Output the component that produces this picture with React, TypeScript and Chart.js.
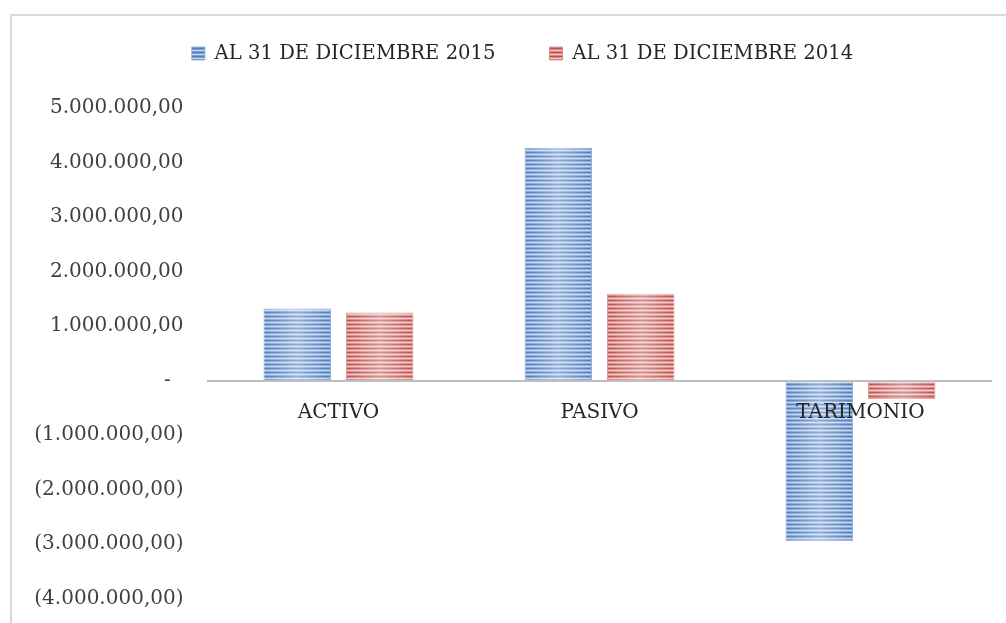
import React, { useEffect, useRef } from "react";
import { Chart, registerables } from "chart.js";

Chart.register(...registerables);

const categories = ["ACTIVO", "PASIVO", "TARIMONIO"];
const seriesLabels = ["AL 31 DE DICIEMBRE 2015", "AL 31 DE DICIEMBRE 2014"];
const values2015 = [1320000, 4270000, -2950000];
const values2014 = [1250000, 1590000, -340000];
const yMin = -4000000;
const yMax = 5000000;
const yStep = 1000000;

const FONT = "'DejaVu Serif', serif";

function fmtNumber(n: number): string {
  const s = Math.round(Math.abs(n))
    .toString()
    .replace(/\B(?=(\d{3})+(?!\d))/g, ".");
  return s + ",00";
}

function tickLabel(v: number): string {
  if (v === 0) return "-\u2007";
  if (v < 0) return "(" + fmtNumber(v) + ")";
  return fmtNumber(v);
}

function makePattern(dark: string, mid: string, light: string): CanvasPattern | string {
  const c = document.createElement("canvas");
  c.width = 4;
  c.height = 4;
  const g = c.getContext("2d");
  if (!g) return dark;
  const rows = [dark, mid, light, mid];
  rows.forEach((col, i) => {
    g.fillStyle = col;
    g.fillRect(0, i, 4, 1);
  });
  const p = g.createPattern(c, "repeat");
  return p || dark;
}

const glossPlugin = {
  id: "gloss",
  afterDatasetsDraw(chart: any) {
    const ctx = chart.ctx;
    chart.data.datasets.forEach((_ds: any, i: number) => {
      const meta = chart.getDatasetMeta(i);
      meta.data.forEach((bar: any) => {
        const { x, y, base, width } = bar.getProps(["x", "y", "base", "width"], true);
        const left = x - width / 2;
        const top = Math.min(y, base);
        const h = Math.abs(base - y);
        const g = ctx.createLinearGradient(left, 0, left + width, 0);
        g.addColorStop(0, "rgba(255,255,255,0)");
        g.addColorStop(0.5, "rgba(255,255,255,0.38)");
        g.addColorStop(1, "rgba(255,255,255,0)");
        ctx.save();
        ctx.fillStyle = g;
        ctx.fillRect(left, top, width, h);
        ctx.restore();
      });
    });
  },
};

const legendShiftPlugin = {
  id: "legendShift",
  afterLayout(chart: any) {
    const lg = chart.legend;
    if (lg) {
      lg.left += 27;
      lg.right += 27;
    }
  },
};

export default function App() {
  const ref = useRef<HTMLCanvasElement | null>(null);

  useEffect(() => {
    if (!ref.current) return;
    const bluePattern = makePattern("#4F7EC0", "#7FA2D4", "#C9D8EE");
    const redPattern = makePattern("#C0504D", "#D78886", "#F0C9C8");

    const chart = new Chart(ref.current, {
      type: "bar",
      data: {
        labels: categories,
        datasets: [
          {
            label: seriesLabels[0],
            data: values2015,
            backgroundColor: bluePattern as any,
            borderColor: "rgba(120,160,215,0.8)",
            borderWidth: 1,
            categoryPercentage: 0.632,
            barPercentage: 0.818,
          },
          {
            label: seriesLabels[1],
            data: values2014,
            backgroundColor: redPattern as any,
            borderColor: "rgba(215,130,128,0.8)",
            borderWidth: 1,
            categoryPercentage: 0.632,
            barPercentage: 0.818,
          },
        ],
      },
      options: {
        responsive: false,
        animation: false,
        devicePixelRatio: 1,
        layout: {
          padding: { left: 0, right: 15, top: -10.3, bottom: 20 },
        },
        plugins: {
          legend: {
            position: "top",
            labels: {
              boxWidth: 13,
              boxHeight: 13,
              padding: 54,
              color: "#262626",
              font: { family: FONT, size: 19.6 },
            },
          },
          title: {
            display: true,
            text: "",
            weight: 500,
            padding: { top: 33.7, bottom: 0 },
            font: { size: 1, lineHeight: 1 },
          },
          tooltip: { enabled: false },
        },
        scales: {
          x: {
            position: { y: 0 } as any,
            grid: { display: false, drawTicks: false },
            border: { display: true, color: "#BFBFBF", width: 2, z: 1 },
            ticks: {
              z: 1,
              padding: 20,
              color: "#262626",
              font: { family: FONT, size: 20 },
            },
          },
          y: {
            min: yMin,
            max: yMax,
            afterFit: (scale: any) => {
              scale.width = 208;
            },
            grid: { display: false, drawTicks: false },
            border: { display: false },
            ticks: {
              stepSize: yStep,
              padding: 24.5,
              color: "#404040",
              font: { family: FONT, size: 20, lineHeight: 0 },
              callback: (v: any) => tickLabel(Number(v)),
            },
          },
        },
      },
      plugins: [glossPlugin, legendShiftPlugin],
    });
    return () => chart.destroy();
  }, []);

  return (
    <div
      style={{
        position: "absolute",
        left: 0,
        top: 0,
        width: 1006,
        height: 623,
        overflow: "hidden",
        background: "#fff",
      }}
    >
      <div
        style={{
          position: "absolute",
          left: 10,
          top: 14,
          width: 1100,
          height: 700,
          borderTop: "2px solid #D9D9D9",
          borderLeft: "2px solid #D9D9D9",
        }}
      />
      <canvas
        ref={ref}
        width={1006}
        height={623}
        style={{ position: "absolute", left: 0, top: 0, width: 1006, height: 623 }}
      />
    </div>
  );
}
